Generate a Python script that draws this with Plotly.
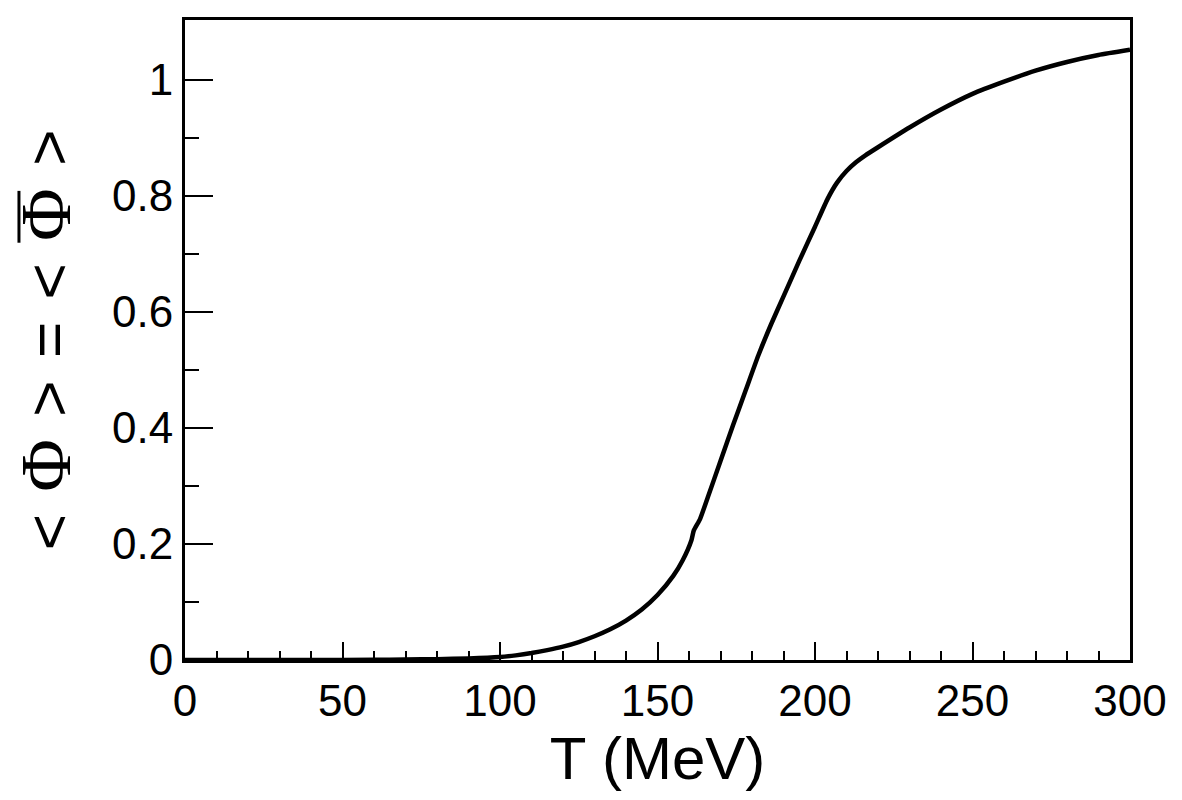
import plotly.graph_objects as go

T_MeV = [0, 20, 40, 60, 70, 80, 90, 100, 105, 110, 115, 120, 125, 130, 135, 140, 145,
         150, 155, 158, 160.8, 161.5, 163.5, 166, 170, 174, 178, 182, 186, 190, 195,
         200, 204, 207, 210, 213, 216, 220, 230, 240, 250, 260, 270, 280, 290, 300]
phi = [0.0, 0.0, 0.0, 0.0003, 0.0008, 0.0015, 0.0025, 0.005, 0.008, 0.012, 0.017,
       0.023, 0.031, 0.041, 0.053, 0.068, 0.087,
       0.112, 0.145, 0.172, 0.207, 0.223, 0.243, 0.281, 0.343, 0.405, 0.465, 0.525,
       0.578, 0.627, 0.688, 0.747, 0.795, 0.823, 0.843, 0.858, 0.870, 0.884, 0.918,
       0.949, 0.976, 0.997, 1.016, 1.031, 1.043, 1.052]

x_ticks = [0, 50, 100, 150, 200, 250, 300]
y_ticks = [0, 0.2, 0.4, 0.6, 0.8, 1]
y_tick_labels = ["0", "0.2", "0.4", "0.6", "0.8", "1"]
y_minor = [0.1, 0.3, 0.5, 0.7, 0.9]

fig = go.Figure()
fig.add_trace(go.Scatter(x=T_MeV, y=phi, mode="lines",
                         line=dict(color="black", width=4.5, shape="spline", smoothing=0.5),
                         showlegend=False))

sp = "\u00a0\u200a"
phi_span = "<span style=\"font-family:'Liberation Serif','Times New Roman',serif;font-size:72px\">Φ</span>"
ytitle = "<" + sp + phi_span + sp + ">" + sp + "=" + sp + "<" + sp + phi_span + sp + ">"

fig.update_layout(
    width=1182, height=800,
    margin=dict(l=185, r=52, t=20, b=140),
    paper_bgcolor="white", plot_bgcolor="white",
    font=dict(family="Liberation Sans, Arial, sans-serif", color="black", size=44),
    xaxis=dict(
        range=[0, 300], tickmode="array", tickvals=x_ticks,
        ticktext=[str(v) for v in x_ticks],
        ticks="inside", ticklen=18, tickwidth=2, tickcolor="black",
        minor=dict(dtick=10, ticks="inside", ticklen=9, tickwidth=2, tickcolor="black"),
        showline=True, linewidth=3, linecolor="black", mirror=True,
        showgrid=False, zeroline=False,
        tickfont=dict(size=44),
        title=dict(text="T (MeV)", font=dict(size=60), standoff=14),
    ),
    yaxis=dict(
        range=[0, 1.1034], tickmode="array", tickvals=y_ticks, ticktext=y_tick_labels,
        ticks="inside", ticklen=28, tickwidth=2, tickcolor="black",
        minor=dict(tickmode="array", tickvals=y_minor, ticks="inside", ticklen=14,
                   tickwidth=2, tickcolor="black"),
        showline=True, linewidth=3, linecolor="black", mirror=True,
        showgrid=False, zeroline=False,
        tickfont=dict(size=44),
        title=dict(text=ytitle, font=dict(size=62), standoff=22),
    ),
    # overline of the second Φ (anti-Polyakov loop) in the y-axis title
    shapes=[dict(type="line", xref="paper", yref="paper",
                 x0=-0.1757, x1=-0.1757, y0=0.652, y1=0.733,
                 line=dict(color="black", width=3))],
)

fig.write_html("out.html")
